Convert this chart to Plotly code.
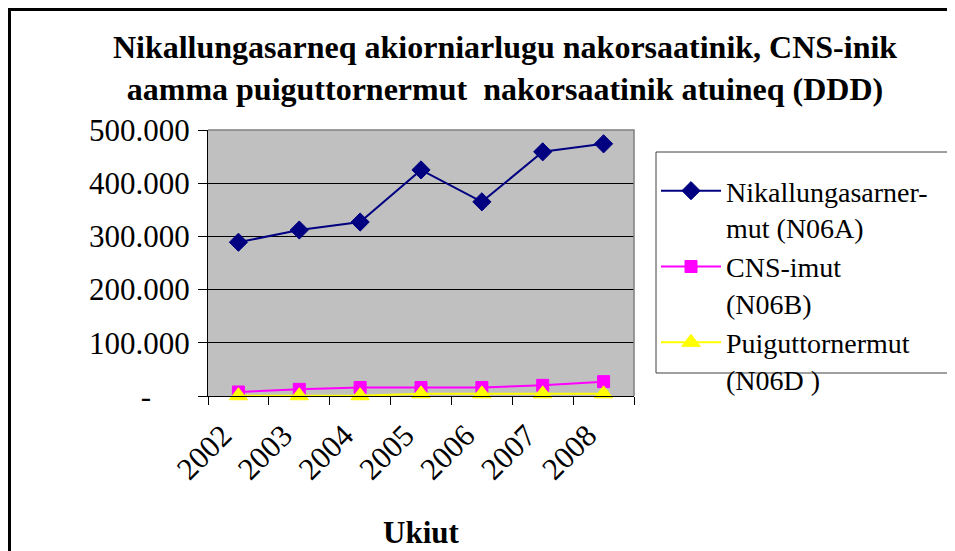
import plotly.graph_objects as go

years = ["2002", "2003", "2004", "2005", "2006", "2007", "2008"]
n06a = [289000, 312000, 327000, 425000, 365000, 459000, 474000]
n06b = [7500, 12500, 16000, 16000, 16000, 20000, 27000]
n06d = [500, 500, 500, 4000, 4000, 4000, 4000]

names = ["Nikallungasarner-<br>mut (N06A)", "CNS-imut<br>(N06B)", "Puiguttornermut<br>(N06D )"]
colors = ["#000080", "#FF00FF", "#FFFF00"]
symbols = ["diamond", "square", "triangle-up"]
sizes = [14, 12, 16]

ytickvals = [0, 100000, 200000, 300000, 400000, 500000]
yticktext = ["-\u00a0\u00a0\u00a0\u00a0\u00a0", "100.000", "200.000", "300.000", "400.000", "500.000"]

title_text = ("<b>Nikallungasarneq akiorniarlugu nakorsaatinik, CNS-inik<br>"
              "aamma puiguttornermut \u00a0nakorsaatinik atuineq (DDD)</b>")

FONT = "Liberation Serif, Times New Roman, serif"

fig = go.Figure()
for vals, name, c, s, sz in zip([n06a, n06b, n06d], names, colors, symbols, sizes):
    fig.add_trace(go.Scatter(
        x=years, y=vals, name=name, mode="lines+markers",
        line=dict(color=c, width=2),
        marker=dict(symbol=s, size=sz, color=c, line=dict(width=1, color=c)),
        cliponaxis=False,
    ))

W, H = 947, 543
L, R, T = 200, 0, 122
plot_bottom = 388
B = H - plot_bottom
plot_right = 626
PW = W - L - R
PH = plot_bottom - T
dom = (plot_right - L) / PW


def px_x(p):
    return (p - L) / PW


def px_y(p):
    return (plot_bottom - p) / PH


fig.update_layout(
    width=W, height=H,
    margin=dict(l=L, r=R, t=T, b=B, autoexpand=False),
    paper_bgcolor="white",
    plot_bgcolor="#C0C0C0",
    font=dict(family=FONT, size=31, color="black"),
    title=dict(text=title_text, x=497 / W, xref="container", xanchor="center",
               y=1 - 50 / H, yref="container", yanchor="top",
               font=dict(family=FONT, size=32, color="black")),
    xaxis=dict(
        domain=[0, dom], type="category", tickson="boundaries",
        ticks="outside", ticklen=8, tickcolor="black", tickwidth=1,
        showline=True, linecolor="black", linewidth=1, showgrid=False,
        tickangle=-45, tickfont=dict(family=FONT, size=31),
        ticklabelshift=-16, ticklabelstandoff=8,
        title=dict(text="<b>Ukiut</b>", font=dict(family=FONT, size=31), standoff=35),
        range=[-0.5, 6.5],
    ),
    yaxis=dict(
        range=[0, 500000], tickvals=ytickvals, ticktext=yticktext,
        ticks="outside", ticklen=9, tickcolor="black", tickwidth=1,
        showline=True, linecolor="black", linewidth=1,
        showgrid=True, gridcolor="black", gridwidth=1, zeroline=False,
        tickfont=dict(family=FONT, size=31), ticklabelstandoff=2,
    ),
    legend=dict(
        x=px_x(648), xanchor="left",
        y=px_y(158), yanchor="top",
        bgcolor="rgba(0,0,0,0)", borderwidth=0,
        font=dict(family=FONT, size=28), itemwidth=60, valign="top",
        tracegroupgap=0,
    ),
    showlegend=True,
    shapes=[
        dict(type="path", xref="x domain", yref="y domain",
             path="M 0 1 L 1 1 L 1 0", line=dict(color="#808080", width=1.5), layer="above"),
        dict(type="rect", xref="paper", yref="paper",
             x0=px_x(648), x1=px_x(990), y0=px_y(365), y1=px_y(144),
             line=dict(color="#404040", width=1), fillcolor="white", layer="above"),
        dict(type="rect", xref="paper", yref="paper",
             x0=px_x(1.5), x1=1.05,
             y0=-0.8, y1=px_y(1.5),
             line=dict(color="black", width=3), fillcolor="rgba(0,0,0,0)", layer="above"),
    ],
)

fig.write_html("out.html")
